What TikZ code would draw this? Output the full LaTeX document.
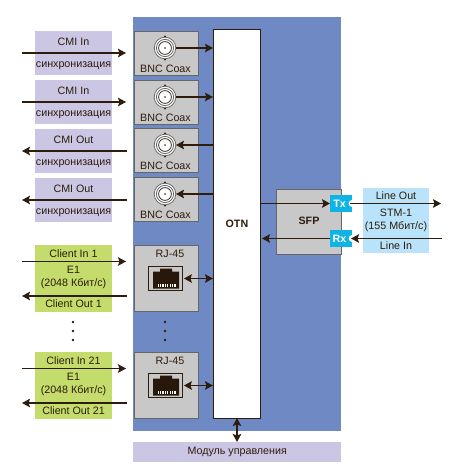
\documentclass[tikz,border=0pt]{standalone}
\usepackage{fontspec}
\setmainfont{Liberation Sans}
\usetikzlibrary{arrows.meta}
\definecolor{panelblue}{HTML}{6F89C5}
\definecolor{lilac}{HTML}{CBC6E4}
\definecolor{lime}{HTML}{C3DC6B}
\definecolor{sky}{HTML}{B9E3FA}
\definecolor{boxgray}{HTML}{C8C8C8}
\definecolor{edgegray}{HTML}{666666}
\definecolor{ink}{HTML}{2E1C0C}
\definecolor{port}{HTML}{0FB4E6}
\tikzset{
  x=1pt,y=-1pt,
  lbl/.style={font=\fontsize{10.7}{12}\selectfont,text=ink,inner sep=0pt},
  unit/.style={draw=edgegray,line width=0.9pt,fill=boxgray,minimum width=64pt,inner sep=0pt,anchor=north west},
  lilacbox/.style={fill=lilac,minimum width=77pt,minimum height=44pt,inner sep=0pt,anchor=north west},
  limebox/.style={fill=lime,minimum width=77pt,minimum height=66.5pt,inner sep=0pt,anchor=north west},
  arr/.style={draw=ink,line width=1.9pt,-{Stealth[length=8pt,width=8.5pt,inset=1.5pt]}},
  darr/.style={draw=ink,line width=1.9pt,{Stealth[length=8pt,width=8.5pt,inset=1.5pt]}-{Stealth[length=8pt,width=8.5pt,inset=1.5pt]}},
  dotmark/.style={circle,fill=ink,inner sep=0pt,minimum size=2.6pt},
}
\newcommand{\bncicon}[1]{%
  \fill[ink] (165,#1-11.5) circle (1.2) (165,#1+11.5) circle (1.2);
  \fill[white] (165,#1) circle (11);
  \draw[edgegray,line width=0.8pt] (165,#1) circle (10.8);
  \draw[edgegray,line width=0.8pt] (165,#1) circle (8.6);
  \draw[ink,line width=0.7pt] (165,#1) circle (6.4);
  \fill[ink] (165,#1) circle (0.9);
}
\newcommand{\rjicon}[2]{%
  \node[draw=ink,line width=0.8pt,minimum width=34pt,minimum height=24.5pt,inner sep=0pt] (#2) at (165.5,#1) {};
  \fill[ink!85!black] (153,#1-7) -- (160,#1-7) -- (160,#1-10) -- (172,#1-10) -- (172,#1-7) -- (179,#1-7)
     -- (179,#1+10) -- (153,#1+10) -- cycle;
  \foreach \k in {0,...,7}{\fill[white] (157.5+2.4*\k,#1+5.5) rectangle +(1.2,3);}
}
\begin{document}
\begin{tikzpicture}
\useasboundingbox (0,0) rectangle (459,470);
\fill[white] (0,0) rectangle (459,470);
% main panel
\node[fill=panelblue,minimum width=208pt,minimum height=414pt,inner sep=0pt,anchor=north west] (panel) at (133,17) {};
\node[fill=lilac,minimum width=208pt,minimum height=20pt,inner sep=0pt,anchor=north west,lbl] (mgmt) at (133,442) {Модуль управления};
\node[draw=ink,line width=0.9pt,fill=white,minimum width=47pt,minimum height=389pt,inner sep=0pt,anchor=north west,lbl] (otn) at (213,29) {\bfseries OTN};
% left labels
\foreach \n/\y/\t in {a/31/CMI In,b/80/CMI In,c/129/CMI Out,d/178/CMI Out}{
  \node[lilacbox] (l\n) at (35,\y) {};
  \node[lbl] at (73.5,\y+11) {\t};
  \node[lbl] at (73.5,\y+34.5) {синхронизация};
}
% BNC units
\foreach \n/\y in {a/31,b/80,c/128,d/177}{
  \node[unit,minimum height=44pt] (u\n) at (133.5,\y) {};
  \node[lbl] at (165.5,\y+37.5) {BNC Coax};
  \bncicon{\y+17}
  \coordinate (bnc\n) at (176,\y+17);
  \coordinate (otn\n) at (213,\y+17);
}
\coordinate (fa) at (22,53);  \coordinate (ta) at (126,53);
\coordinate (fb) at (22,102); \coordinate (tb) at (126,102);
\coordinate (fc) at (127,151);\coordinate (tc) at (22,151);
\coordinate (fd) at (127,200);\coordinate (td) at (22,200);
\draw[arr] (fa) -- (ta);
\draw[arr] (fb) -- (tb);
\draw[arr] (fc) -- (tc);
\draw[arr] (fd) -- (td);
\draw[arr] (bnca) -- (otna);
\draw[arr] (bncb) -- (otnb);
\draw[arr] (otnc) -- (bncc);
\draw[arr] (otnd) -- (bncd);
% client labels
\foreach \n/\y/\m in {e/245/1,f/352/21}{
  \node[limebox] (l\n) at (35,\y) {};
  \node[lbl] at (73.5,\y+8.5) {Client In \m};
  \node[lbl,align=center] at (73.5,\y+32.5) {E1\\[1pt](2048 Кбит/с)};
  \node[lbl] at (73.5,\y+58.5) {Client Out \m};
  \node[unit,minimum height=66pt] (u\n) at (133.5,\y) {};
  \node[lbl] at (170,\y+8.5) {RJ-45};
  \rjicon{\y+33.5}{rj\n}
  \coordinate (otn\n) at (213,\y+33.5);
  \coordinate (in\n) at (22,\y+16.5);
  \coordinate (inend\n) at (126,\y+16.5);
  \coordinate (outs\n) at (127,\y+51);
  \coordinate (oute\n) at (22,\y+51);
  \draw[arr] (in\n) -- (inend\n);
  \draw[arr] (outs\n) -- (oute\n);
}
\draw[darr] (rje.east) ++(1,0) coordinate (rjee) (rjee) -- (otne);
\draw[darr] (rjf.east) ++(1,0) coordinate (rjfe) (rjfe) -- (otnf);
% dots
\foreach \x in {73,165}{\foreach \y in {322,331,340}{\node[dotmark] at (\x,\y) {};}}
% SFP
\node[fill=sky,minimum width=66pt,minimum height=65pt,inner sep=0pt,anchor=north west] (stm) at (363,188) {};
\node[lbl] at (396,195.5) {Line Out};
\node[lbl,align=center] at (396,220.5) {STM-1\\[1pt](155 Мбит/с)};
\node[lbl] at (396,245.5) {Line In};
\node[unit,minimum width=64.5pt,minimum height=65pt,lbl] (sfp) at (276,188.5) {};
\node[lbl] at (309,221) {\bfseries SFP};
\foreach \n/\y/\t in {tx/203.5/Tx,rx/238.5/Rx}{
  \fill[port] (330,\y-8.5) rectangle (352,\y+8.5);
  \fill[white] (352,\y) circle (3.4);
  \node[inner sep=0pt,text=white,font=\fontsize{10.7}{12}\selectfont\bfseries] (\n) at (339.5,\y) {\t};
}
\coordinate (otnTx) at (260,203.5);
\coordinate (txin) at (330,203.5);
\coordinate (txout) at (350,203.5);
\coordinate (lineout) at (441,203.5);
\coordinate (linein) at (442,238.5);
\coordinate (rxin) at (351,238.5);
\coordinate (rxout) at (330,238.5);
\coordinate (otnRx) at (262,238.5);
\draw[arr] (otnTx) -- (txin);
\draw[arr] (txout) -- (lineout);
\draw[arr] (linein) -- (rxin);
\draw[arr] (rxout) -- (otnRx);
% management link
\coordinate (otnm) at (237,418);
\coordinate (mgmtt) at (237,442);
\draw[darr] (otnm) -- (mgmtt);
\end{tikzpicture}
\end{document}
